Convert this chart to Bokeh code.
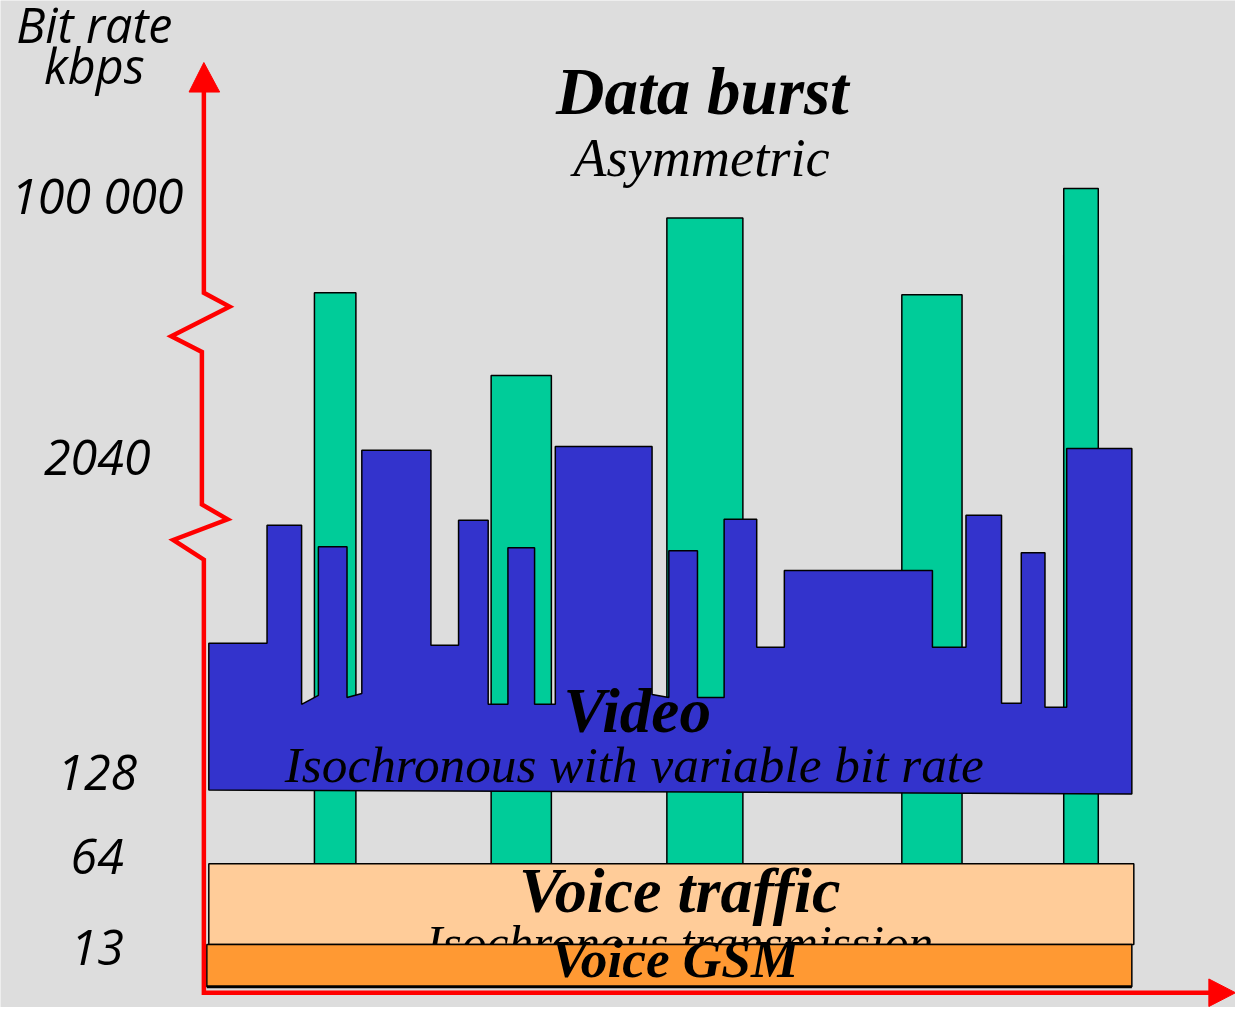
from bokeh.plotting import figure
from bokeh.models import Range1d
from bokeh.core.properties import value
from bokeh.embed import file_html
from bokeh.resources import INLINE

# ---- data (diagram coordinates: x = time, y = screen-like bit-rate scale, downwards) ----
tick_labels = ["100 000", "2040", "128", "64", "13"]
tick_y = [215, 482, 802, 887, 980]

burst_left = [318, 497, 675, 913, 1077]
burst_right = [360, 558, 752, 974, 1112]
burst_top = [297, 381, 221, 299, 191]
burst_bottom = [877, 877, 877, 877, 877]

video_x = [211, 211, 270, 270, 305, 305, 322, 322, 351, 351, 366, 366, 436, 436,
           464, 464, 494, 494, 514, 514, 541, 541, 562, 562, 660, 660, 677, 677,
           706, 706, 733, 733, 766, 766, 794, 794, 944, 944, 978, 978, 1014, 1014,
           1034, 1034, 1058, 1058, 1080, 1080, 1146, 1146]
video_y = [802, 653, 653, 533, 533, 715, 706, 555, 555, 708, 704, 457, 457, 655,
           655, 528, 528, 715, 715, 556, 556, 715, 715, 453, 453, 705, 708, 559,
           559, 708, 708, 527, 527, 657, 657, 579, 579, 657, 657, 523, 523, 714,
           714, 561, 561, 718, 718, 455, 455, 806]

voice_box = dict(left=211, right=1148, top=877, bottom=959)
gsm_box = dict(left=209, right=1146, top=959, bottom=1002)

axis_x = [206, 206, 232, 173, 204, 204, 230, 175, 206, 206, 1226]
axis_y = [90, 297, 311, 341, 357, 512, 527, 548, 568, 1008, 1008]

# ---- figure ----
W, H = 1235, 1007
SC = W / 1251.0
p = figure(width=W, height=H, x_range=Range1d(0, 1251), y_range=Range1d(1023, 0),
           output_backend="svg", toolbar_location=None,
           x_axis_location=None, y_axis_location=None, min_border=0)
p.min_border_left = p.min_border_right = p.min_border_top = p.min_border_bottom = 0
p.background_fill_color = "#dddddd"
p.border_fill_color = "#dddddd"
p.outline_line_color = None
p.grid.visible = False

def label(x, baseline, t, size, font, style, align="center"):
    p.text(x=[x], y=[baseline - 0.36 * size], text=[t], text_font=value(font),
           text_font_style=style, text_font_size=f"{size * SC:.1f}px", text_align=align,
           text_baseline="alphabetic", text_color="black")

# data burst bars
p.quad(left=burst_left, right=burst_right, top=burst_top, bottom=burst_bottom,
       fill_color="#00cc99", line_color="black", line_width=1.5)

# video polygon
p.patch(video_x, video_y, fill_color="#3333cc", line_color="black", line_width=1.5)

# voice traffic box
p.quad(left=[voice_box["left"]], right=[voice_box["right"]], top=[voice_box["top"]],
       bottom=[voice_box["bottom"]], fill_color="#ffcc99", line_color="black", line_width=1.5)
label(688, 975, "Isochronous transmission", 50, "Liberation Serif", "italic")

# voice GSM box
p.quad(left=[gsm_box["left"]], right=[gsm_box["right"]], top=[gsm_box["top"]],
       bottom=[gsm_box["bottom"]], fill_color="#ff9933", line_color="black", line_width=1.5)
p.line([gsm_box["left"], gsm_box["right"]], [gsm_box["bottom"], gsm_box["bottom"]],
       line_color="black", line_width=3)

# red axes
p.line(axis_x, axis_y, line_color="#ff0000", line_width=4.5, line_join="miter")
p.patch([191, 206, 222], [93, 63, 93], fill_color="#ff0000", line_color="#ff0000", line_width=1)
p.patch([1224, 1251, 1224], [994, 1008, 1022], fill_color="#ff0000", line_color="#ff0000", line_width=1)

# serif labels
label(711, 117, "Data burst", 68, "Liberation Serif", "bold italic")
label(710, 180, "Asymmetric", 55, "Liberation Serif", "italic")
label(645, 745, "Video", 64, "Liberation Serif", "bold italic")
label(642, 795, "Isochronous with variable bit rate", 52, "Liberation Serif", "italic")
label(688, 928, "Voice traffic", 65, "Liberation Serif", "bold italic")
label(683, 994, "Voice GSM", 54, "Liberation Serif", "bold italic")

# sans labels (axis title + tick labels)
label(95, 42, "Bit rate", 49, "Open Sans", "italic")
label(95, 83, "kbps", 49, "Open Sans", "italic")
for t, yv in zip(tick_labels, tick_y):
    label(98, yv, t, 49, "Open Sans", "italic")

open("out.html", "w").write(file_html(p, INLINE))
